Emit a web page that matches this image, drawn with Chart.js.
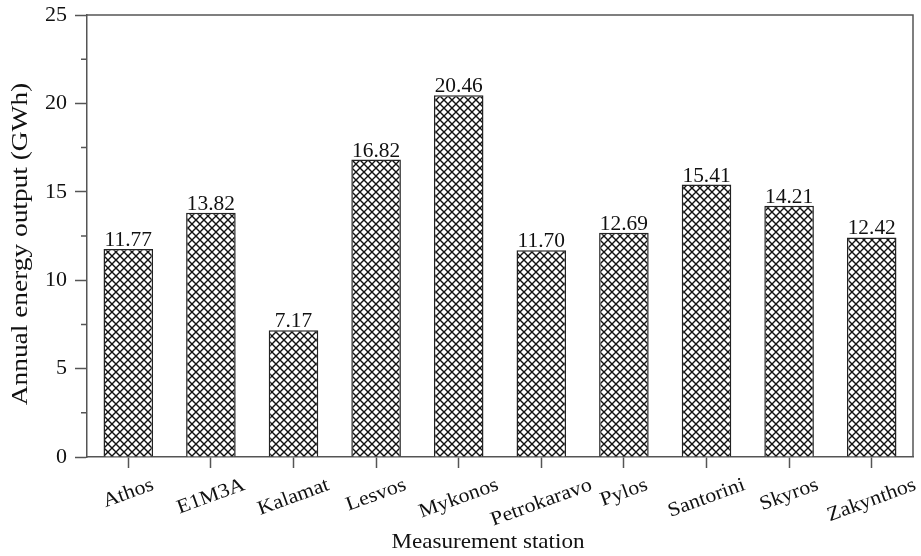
<!DOCTYPE html>
<html>
<head>
<meta charset="utf-8">
<script src="https://cdn.jsdelivr.net/npm/chart.js@4"></script>
<style>
  html, body { margin: 0; padding: 0; background: #fff; }
  #wrap { width: 921px; height: 556px; }
</style>
</head>
<body>
<div id="wrap"><canvas id="myChart" width="921" height="556"></canvas></div>
<script>
const stations = ["Athos", "E1M3A", "Kalamat", "Lesvos", "Mykonos", "Petrokaravo", "Pylos", "Santorini", "Skyros", "Zakynthos"];
const energy = [11.77, 13.82, 7.17, 16.82, 20.46, 11.70, 12.69, 15.41, 14.21, 12.42];
const yMin = 0;
const yMax = 25;
const yStep = 5;
const yMinorStep = 2.5;

const serif = "'Liberation Serif', 'Times New Roman', serif";
const axisColor = "#555";
const textColor = "#111";

// crosshatch fill for the bars
function hatch() {
  const c = document.createElement("canvas");
  c.width = 8;
  c.height = 8;
  const g = c.getContext("2d");
  g.fillStyle = "#fff";
  g.fillRect(0, 0, 8, 8);
  g.strokeStyle = "#111";
  g.lineWidth = 1.4;
  g.beginPath();
  g.moveTo(-1, -1);
  g.lineTo(9, 9);
  g.moveTo(9, -1);
  g.lineTo(-1, 9);
  g.stroke();
  return g.createPattern(c, "repeat");
}

function stretchText(ctx, txt, x, y, angle, sx) {
  ctx.save();
  ctx.translate(x, y);
  ctx.rotate(angle);
  ctx.scale(sx, 1);
  ctx.fillText(txt, 0, 0);
  ctx.restore();
}

const extras = {
  id: "extras",
  afterDraw(chart) {
    const ctx = chart.ctx;
    const area = chart.chartArea;
    const xs = chart.scales.x;
    const ys = chart.scales.y;

    // top and right frame
    ctx.save();
    ctx.strokeStyle = axisColor;
    ctx.lineWidth = 1.5;
    ctx.beginPath();
    ctx.moveTo(area.left, area.top);
    ctx.lineTo(area.right, area.top);
    ctx.lineTo(area.right, area.bottom);
    ctx.stroke();

    // minor ticks on y
    ctx.beginPath();
    for (let v = yMin + yMinorStep; v < yMax; v += yStep) {
      const py = ys.getPixelForValue(v);
      ctx.moveTo(area.left - 6, py);
      ctx.lineTo(area.left, py);
    }
    ctx.stroke();

    ctx.fillStyle = textColor;

    // value labels above bars
    ctx.font = "20px " + serif;
    ctx.textAlign = "center";
    ctx.textBaseline = "alphabetic";
    const bars = chart.getDatasetMeta(0).data;
    bars.forEach(function (bar, i) {
      stretchText(ctx, energy[i].toFixed(2), bar.x, bar.y - 3, 0, 1.07);
    });

    // rotated category labels
    const ang = -20 * Math.PI / 180;
    const sx = 1.1;
    ctx.font = "20px " + serif;
    ctx.textBaseline = "middle";
    stations.forEach(function (name, i) {
      const px = xs.getPixelForTick(i);
      const L = ctx.measureText(name).width * sx;
      const h = 18;
      const boxH = L * Math.sin(-ang) + h * Math.cos(ang);
      stretchText(ctx, name, px, 476 + boxH / 2, ang, sx);
    });

    // axis titles
    ctx.font = "21px " + serif;
    ctx.textBaseline = "alphabetic";
    stretchText(ctx, "Measurement station", 488, 548, 0, 1.1);
    ctx.font = "24px " + serif;
    ctx.textBaseline = "middle";
    stretchText(ctx, "Annual energy output (GWh)", 21, 244, -Math.PI / 2, 1.14);
    ctx.restore();
  }
};

const ctx1 = document.getElementById("myChart").getContext("2d");
const myChart = new Chart(ctx1, {
  type: "bar",
  data: {
    labels: stations,
    datasets: [
      {
        label: "Annual energy output",
        data: energy,
        backgroundColor: hatch(),
        borderColor: "#222",
        borderWidth: 1.5,
        categoryPercentage: 0.6,
        barPercentage: 1.0,
      },
    ],
  },
  options: {
    responsive: false,
    animation: false,
    layout: { padding: { top: 15, right: 8, left: 0, bottom: 0 } },
    plugins: {
      legend: { display: false },
      tooltip: { enabled: false },
    },
    scales: {
      x: {
        offset: true,
        grid: {
          offset: false,
          drawOnChartArea: false,
          tickLength: 11,
          tickColor: axisColor,
          tickWidth: 1.5,
        },
        border: { color: axisColor, width: 1.5 },
        ticks: { display: false },
        afterFit(scale) {
          scale.height = 99;
          scale.paddingLeft = 0;
          scale.paddingRight = 0;
        },
      },
      y: {
        min: yMin,
        max: yMax,
        grid: {
          drawOnChartArea: false,
          tickLength: 12,
          tickColor: axisColor,
          tickWidth: 1.5,
        },
        border: { color: axisColor, width: 1.5 },
        ticks: {
          stepSize: yStep,
          padding: 8,
          color: textColor,
          font: { family: serif, size: 22 },
        },
        afterFit(scale) {
          scale.width = 87;
          scale.paddingTop = 0;
          scale.paddingBottom = 0;
        },
      },
    },
  },
  plugins: [extras],
});
</script>
</body>
</html>
